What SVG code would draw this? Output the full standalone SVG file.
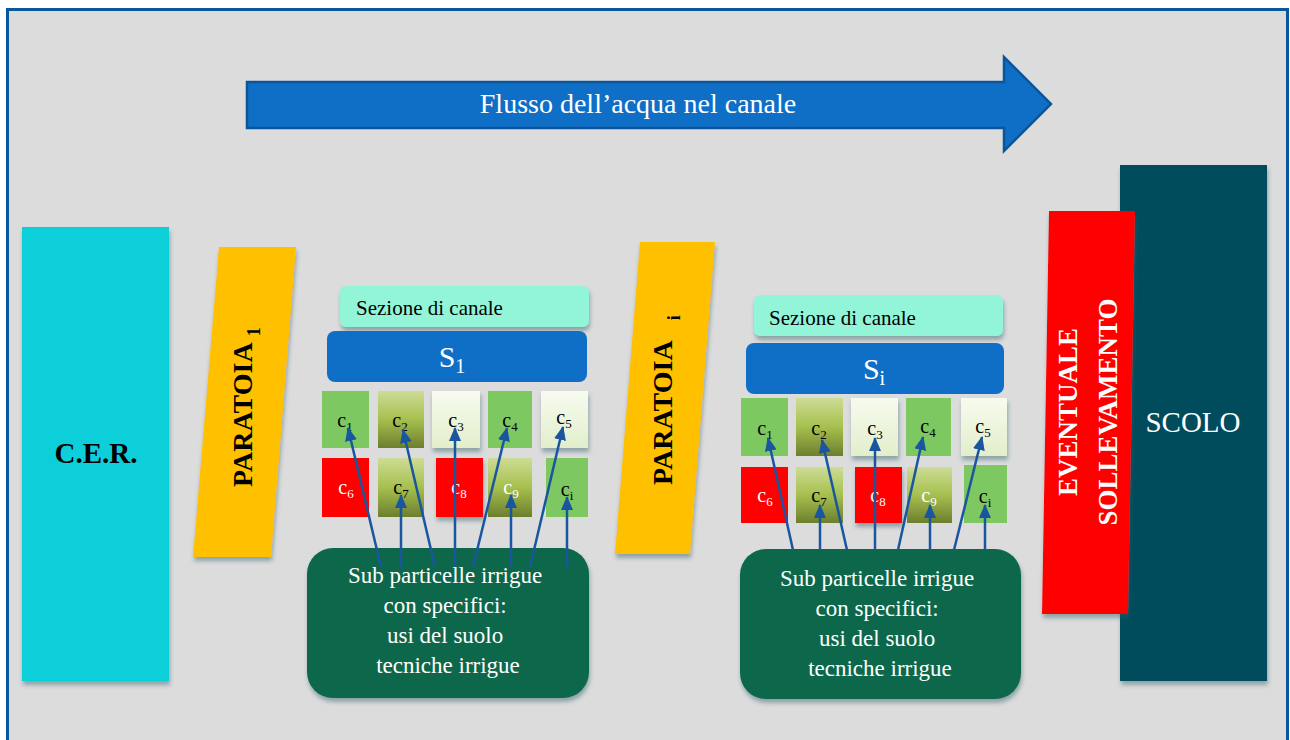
<svg xmlns="http://www.w3.org/2000/svg" width="1290" height="740" viewBox="0 0 1290 740">
<defs>
<style>
.serif{font-family:"Liberation Serif","DejaVu Serif",serif}
.bold{font-weight:bold}
.w{fill:#ffffff}
.k{fill:#000000}
.conn{stroke:#1a56a0;stroke-width:2.5;fill:none;marker-end:url(#ah)}
.lg{fill:#7ec862}
.red{fill:#ff0000}
.ol{fill:url(#gOlive)}
.pale{fill:url(#gPale)}
.lbl{font-family:"Liberation Serif","DejaVu Serif",serif;font-size:20px;text-anchor:middle}
.sub{font-size:13px}
</style>
<linearGradient id="gOlive" x1="0" y1="0" x2="0" y2="1">
<stop offset="0" stop-color="#cddc95"/>
<stop offset="0.5" stop-color="#a6c04e"/>
<stop offset="1" stop-color="#6d7e2e"/>
</linearGradient>
<linearGradient id="gPale" x1="0" y1="0" x2="0" y2="1">
<stop offset="0" stop-color="#f7fbef"/>
<stop offset="1" stop-color="#e2eecb"/>
</linearGradient>
<filter id="sh" x="-20%" y="-20%" width="140%" height="140%">
<feDropShadow dx="1" dy="4" stdDeviation="2" flood-color="#2f5f68" flood-opacity="0.45"/>
</filter>
<marker id="ah" markerUnits="userSpaceOnUse" markerWidth="14" markerHeight="12" refX="13" refY="6" orient="auto">
<path d="M0,0 L14,6 L0,12 Z" fill="#1a56a0"/>
</marker>
</defs>

<rect x="0" y="0" width="1290" height="740" fill="#ffffff"/>
<rect id="frame" x="7.5" y="9.5" width="1280" height="740" fill="#dcdcdc" stroke="#0b559c" stroke-width="3"/>

<g id="flow">
<path d="M247,82 L1004,82 L1004,57 L1051,104 L1004,151 L1004,128 L247,128 Z" fill="#0f6fc6" stroke="#0b559a" stroke-width="2.5"/>
<text x="638" y="113" class="serif w" font-size="28" text-anchor="middle">Flusso dell’acqua nel canale</text>
</g>

<g id="cer">
<rect x="22" y="227" width="147" height="454" fill="#0ccfd9" filter="url(#sh)"/>
<text x="96" y="463" class="serif bold k" font-size="29" text-anchor="middle">C.E.R.</text>
</g>

<g id="paratoia1">
<polygon points="219,247 296,247 271,557 193,557" fill="#ffc000" filter="url(#sh)"/>
<text transform="translate(252,487) rotate(-90)" class="serif bold k" font-size="28">PARATOIA<tspan font-size="18" dx="6" dy="8">1</tspan></text>
</g>

<g id="paratoiai">
<polygon points="640,242 715,242 690,554 615,554" fill="#ffc000" filter="url(#sh)"/>
<text transform="translate(672,485) rotate(-90)" class="serif bold k" font-size="28">PARATOIA<tspan font-size="18" dx="20" dy="8">i</tspan></text>
</g>

<g id="sezione1">
<rect x="340" y="286" width="249" height="41" rx="6" fill="#93f5d8" filter="url(#sh)"/>
<text x="356" y="315" class="serif k" font-size="21">Sezione di canale</text>
</g>
<g id="s1">
<rect x="327" y="331" width="260" height="51" rx="8" fill="#0f6fc6"/>
<text x="452" y="367" class="serif w" font-size="30" text-anchor="middle">S<tspan font-size="20" dy="6">1</tspan></text>
</g>

<g id="cells1">
<rect x="322" y="391" width="47" height="57" class="lg"/>
<rect x="378" y="391" width="46" height="57" class="ol"/>
<rect x="432" y="391" width="48" height="57" class="pale" filter="url(#sh)"/>
<rect x="488" y="391" width="44" height="57" class="lg"/>
<rect x="541" y="391" width="47" height="57" class="pale" filter="url(#sh)"/>
<rect x="322" y="458" width="47" height="59" class="red"/>
<rect x="378" y="458" width="46" height="59" class="ol"/>
<rect x="436" y="458" width="47" height="59" class="red" filter="url(#sh)"/>
<rect x="488" y="458" width="44" height="59" class="ol"/>
<rect x="546" y="458" width="42" height="59" class="lg"/>
<text x="345" y="427" class="lbl k">c<tspan class="sub" dy="4">1</tspan></text>
<text x="400" y="427" class="lbl k">c<tspan class="sub" dy="4">2</tspan></text>
<text x="456" y="427" class="lbl k">c<tspan class="sub" dy="4">3</tspan></text>
<text x="510" y="427" class="lbl k">c<tspan class="sub" dy="4">4</tspan></text>
<text x="564" y="424" class="lbl k">c<tspan class="sub" dy="4">5</tspan></text>
<text x="346" y="494" class="lbl w">c<tspan class="sub" dy="4">6</tspan></text>
<text x="401" y="494" class="lbl k">c<tspan class="sub" dy="4">7</tspan></text>
<text x="459" y="494" class="lbl w">c<tspan class="sub" dy="4">8</tspan></text>
<text x="511" y="494" class="lbl w">c<tspan class="sub" dy="4">9</tspan></text>
<text x="567" y="496" class="lbl k">c<tspan class="sub" dy="4">i</tspan></text>
</g>

<g id="sub1">
<rect x="307" y="548" width="282" height="150" rx="26" fill="#09684b" filter="url(#sh)"/>
<text class="serif w" font-size="23" text-anchor="middle">
<tspan x="448" y="583">Sub particelle irrigue</tspan>
<tspan x="448" y="613">con specifici:</tspan>
<tspan x="448" y="643">usi del suolo</tspan>
<tspan x="448" y="673">tecniche irrigue</tspan>
</text>
</g>

<g id="sezionei">
<rect x="754" y="295" width="249" height="41" rx="6" fill="#93f5d8" filter="url(#sh)"/>
<text x="769" y="325" class="serif k" font-size="21">Sezione di canale</text>
</g>
<g id="si">
<rect x="746" y="343" width="258" height="51" rx="8" fill="#0f6fc6"/>
<text x="874" y="379" class="serif w" font-size="30" text-anchor="middle">S<tspan font-size="20" dy="6">i</tspan></text>
</g>

<g id="cellsi">
<rect x="741" y="398" width="47" height="58" class="lg"/>
<rect x="796" y="398" width="47" height="58" class="ol"/>
<rect x="851" y="398" width="47" height="58" class="pale" filter="url(#sh)"/>
<rect x="906" y="398" width="45" height="58" class="lg"/>
<rect x="961" y="398" width="46" height="58" class="pale" filter="url(#sh)"/>
<rect x="741" y="467" width="47" height="56" class="red"/>
<rect x="796" y="467" width="47" height="56" class="ol"/>
<rect x="855" y="467" width="47" height="56" class="red" filter="url(#sh)"/>
<rect x="907" y="467" width="45" height="56" class="ol"/>
<rect x="964" y="465" width="43" height="58" class="lg"/>
<text x="765" y="435" class="lbl k">c<tspan class="sub" dy="4">1</tspan></text>
<text x="819" y="435" class="lbl k">c<tspan class="sub" dy="4">2</tspan></text>
<text x="875" y="435" class="lbl k">c<tspan class="sub" dy="4">3</tspan></text>
<text x="928" y="433" class="lbl k">c<tspan class="sub" dy="4">4</tspan></text>
<text x="983" y="433" class="lbl k">c<tspan class="sub" dy="4">5</tspan></text>
<text x="765" y="502" class="lbl w">c<tspan class="sub" dy="4">6</tspan></text>
<text x="819" y="502" class="lbl k">c<tspan class="sub" dy="4">7</tspan></text>
<text x="878" y="502" class="lbl w">c<tspan class="sub" dy="4">8</tspan></text>
<text x="929" y="502" class="lbl w">c<tspan class="sub" dy="4">9</tspan></text>
<text x="985" y="503" class="lbl k">c<tspan class="sub" dy="4">i</tspan></text>
</g>

<g id="subi">
<rect x="740" y="549" width="281" height="150" rx="26" fill="#09684b" filter="url(#sh)"/>
<text class="serif w" font-size="23" text-anchor="middle">
<tspan x="880" y="586">Sub particelle irrigue</tspan>
<tspan x="880" y="616">con specifici:</tspan>
<tspan x="880" y="646">usi del suolo</tspan>
<tspan x="880" y="676">tecniche irrigue</tspan>
</text>
</g>

<g id="scolo">
<rect x="1120" y="165" width="147" height="516" fill="#044c5c" filter="url(#sh)"/>
<text x="1193" y="432" class="serif w" font-size="29" text-anchor="middle">SCOLO</text>
</g>

<g id="sollevamento">
<polygon points="1049,211 1135,211 1128,614 1042,614" fill="#ff0000" filter="url(#sh)"/>
<text transform="translate(1077,412) rotate(-90)" class="serif bold w" font-size="27" text-anchor="middle">EVENTUALE</text>
<text transform="translate(1117,412) rotate(-90)" class="serif bold w" font-size="27" text-anchor="middle">SOLLEVAMENTO</text>
</g>

<g id="connectors">
<line x1="381" y1="567" x2="348" y2="428" class="conn"/>
<line x1="401" y1="567" x2="401" y2="495" class="conn"/>
<line x1="435" y1="567" x2="403" y2="430" class="conn"/>
<line x1="455" y1="567" x2="455" y2="428" class="conn"/>
<line x1="473" y1="567" x2="507" y2="428" class="conn"/>
<line x1="511" y1="567" x2="511" y2="495" class="conn"/>
<line x1="530" y1="567" x2="563" y2="427" class="conn"/>
<line x1="567" y1="567" x2="567" y2="497" class="conn"/>
<line x1="793" y1="550" x2="768" y2="438" class="conn"/>
<line x1="820" y1="550" x2="820" y2="505" class="conn"/>
<line x1="847" y1="550" x2="822" y2="440" class="conn"/>
<line x1="875" y1="550" x2="875" y2="438" class="conn"/>
<line x1="898" y1="550" x2="923" y2="437" class="conn"/>
<line x1="930" y1="550" x2="930" y2="505" class="conn"/>
<line x1="954" y1="550" x2="982" y2="437" class="conn"/>
<line x1="985" y1="550" x2="985" y2="505" class="conn"/>
</g>
</svg>
